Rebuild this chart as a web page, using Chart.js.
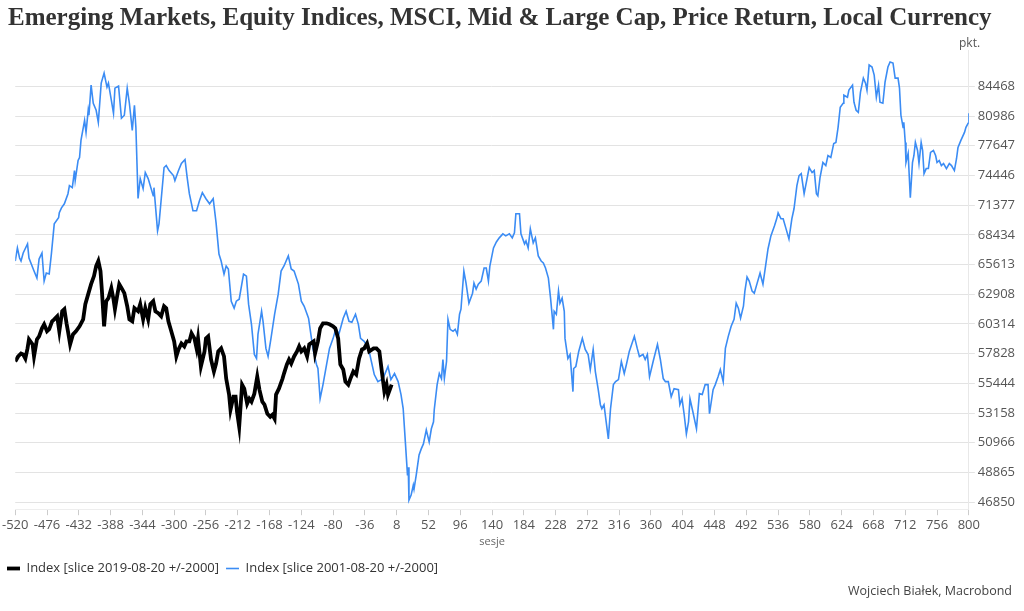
<!DOCTYPE html>
<html>
<head>
<meta charset="utf-8">
<script src="https://cdn.jsdelivr.net/npm/chart.js@4.4.1/dist/chart.umd.min.js"></script>
<style>
  html, body { margin: 0; padding: 0; background: #fff; }
  #wrap { position: relative; width: 1024px; height: 611px; overflow: hidden; }
  #title { position: absolute; left: 8px; top: 3px; font: bold 25px "Liberation Serif", serif; color: #333; white-space: nowrap; }
  #unit { position: absolute; left: 959px; top: 34px; font: 12px "Open Sans", sans-serif; color: #555; }
  #source { position: absolute; right: 12px; top: 582px; font: 12.5px "Open Sans", sans-serif; color: #444; }
  #chartBox { position: absolute; left: 0; top: 0; width: 1024px; height: 611px; }
</style>
</head>
<body>
<div id="wrap">
  <div id="chartBox"><canvas id="mainChart"></canvas></div>
  <div id="title">Emerging Markets, Equity Indices, MSCI, Mid &amp; Large Cap, Price Return, Local Currency</div>
  <div id="unit">pkt.</div>
  <div id="source">Wojciech Białek, Macrobond</div>
</div>
<script>
// Series labels
const seriesLabels = ['Index [slice 2019-08-20 +/-2000]', 'Index [slice 2001-08-20 +/-2000]'];

// Y-axis tick values (log spaced)
const yTicks = [46850, 48865, 50966, 53158, 55444, 57828, 60314, 62908, 65613, 68434, 71377, 74446, 77647, 80986, 84468];

// Slice 2019-08-20 (black): sessions and values
const blackX = [-520, -516, -512, -509, -506, -503, -501, -496, -494, -490, -487, -483, -480, -476, -473, -469, -466, -462, -459, -455,
  -452, -449, -447, -444, -440, -436, -431, -426, -423, -419, -415, -411, -408, -405, -402, -400, -397, -394, -391, -387,
  -384, -382, -379, -376, -372, -369, -365, -362, -358, -355, -350, -347, -343, -340, -336, -333, -329, -326, -322, -318,
  -314, -311, -308, -304, -300, -297, -294, -290, -286, -283, -279, -276, -272, -269, -267, -263, -258, -256, -253, -249,
  -245, -242, -239, -235, -231, -228, -224, -222, -218, -215, -213, -210, -206, -203, -199, -196, -193, -189, -185, -182,
  -178, -175, -171, -167, -164, -161, -159, -155, -150, -148, -144, -141, -138, -134, -130, -127, -124, -120, -116, -113,
  -107, -105, -101, -98, -94, -89, -85, -80, -77, -73, -70, -66, -63, -59, -56, -52, -48, -44, -40, -37,
  -33, -30, -24, -20, -16, -12, -9, -6, -4, -1, 1];
const blackY = [57190, 57600, 57840, 57760, 57435, 58260, 59010, 58595, 57600, 59010, 59265, 59945, 60285, 59687, 59860, 60543, 60715, 60975, 59687, 61412,
  61590, 60370, 59687, 58595, 59435, 59687, 60115, 60715, 62030, 62920, 63820, 64550, 65480, 65946, 65013, 63187, 60115, 62293, 62560, 63460,
  62470, 61590, 62740, 63820, 63370, 63005, 61850, 60715, 60543, 61680, 61412, 62030, 60715, 61680, 60715, 62030, 62293, 61412, 61240, 60975,
  61850, 61680, 60543, 59687, 58843, 57600, 58175, 58675, 58430, 58843, 58843, 59520, 59095, 58260, 59095, 56785, 58010, 59095, 59265, 57353,
  56381, 57030, 58010, 58260, 57600, 55820, 54570, 53410, 54410, 54410, 53258, 52130, 55345, 55030, 53870, 54250, 54022, 54640, 55980, 54955,
  54022, 53790, 53106, 52880, 53030, 52730, 54570, 55030, 55820, 56220, 56950, 57353, 57030, 57600, 58010, 58430, 58010, 58260, 57600, 58595,
  58843, 57840, 58843, 59945, 60370, 60370, 60285, 60115, 59945, 59095, 56950, 56545, 55583, 55345, 55820, 56381, 56140, 57435, 58175, 58260,
  58675, 58010, 58260, 58260, 58010, 56140, 54797, 55345, 54570, 55030, 55345];

// Slice 2001-08-20 (blue): sessions and values
const blueX = [-520, -517, -514, -512, -509, -503, -501, -494, -490, -487, -483, -480, -477, -473, -470, -466, -460, -459, -456, -452,
  -447, -445, -441, -438, -437, -433, -431, -429, -424, -422, -419, -418, -415, -412, -408, -405, -401, -397, -393, -391,
  -387, -384, -382, -377, -373, -369, -365, -362, -358, -355, -353, -350, -347, -343, -340, -336, -329, -328, -323, -321,
  -314, -311, -307, -301, -299, -294, -290, -285, -282, -279, -274, -269, -265, -261, -256, -251, -246, -242, -238, -235,
  -231, -228, -225, -221, -217, -214, -210, -204, -200, -197, -193, -189, -186, -184, -179, -177, -173, -170, -166, -161,
  -156, -152, -148, -142, -138, -134, -128, -124, -120, -114, -108, -103, -101, -98, -94, -89, -85, -80, -76, -72,
  -66, -62, -58, -54, -49, -45, -42, -37, -31, -27, -23, -18, -11, -4, 0, 5, 10, 14, 17, 20,
  23, 24, 25, 28, 31, 32, 35, 39, 42, 45, 49, 53, 56, 59, 60, 64, 67, 70, 72, 74,
  77, 79, 82, 86, 89, 92, 95, 97, 101, 104, 108, 113, 115, 118, 121, 125, 129, 132, 135, 137,
  142, 146, 150, 155, 159, 164, 168, 171, 173, 178, 180, 185, 187, 190, 193, 197, 200, 204, 208, 211,
  214, 218, 221, 225, 226, 229, 232, 234, 237, 240, 241, 245, 248, 252, 253, 256, 260, 265, 269, 273,
  276, 280, 283, 287, 290, 292, 295, 298, 301, 304, 308, 311, 315, 319, 323, 326, 330, 337, 341, 344,
  349, 352, 355, 358, 363, 369, 373, 377, 380, 384, 388, 392, 398, 400, 403, 406, 409, 412, 414, 418,
  423, 427, 431, 435, 439, 441, 446, 449, 453, 456, 460, 463, 467, 471, 475, 478, 481, 484, 488, 490,
  493, 496, 500, 503, 507, 511, 515, 518, 522, 526, 531, 534, 536, 540, 543, 547, 551, 555, 558, 562,
  565, 568, 572, 575, 579, 583, 586, 589, 591, 594, 598, 602, 605, 609, 613, 616, 619, 622, 626, 627,
  632, 634, 639, 641, 644, 647, 650, 654, 657, 659, 662, 666, 669, 672, 675, 677, 681, 684, 688, 691,
  695, 698, 702, 704, 706, 709, 710, 712, 713, 716, 719, 722, 724, 726, 729, 731, 734, 736, 738, 741,
  744, 747, 751, 754, 756, 759, 762, 765, 769, 773, 776, 780, 783, 785, 789, 794, 796, 799, 800];
const blueY = [65946, 67180, 66230, 65946, 66700, 67560, 66230, 65013, 64370, 66130, 66700, 64094, 64830, 64740, 66600, 69515, 70110, 70610, 71110, 71520,
  72550, 73380, 73170, 74968, 73907, 76043, 76370, 78241, 80503, 79140, 81658, 81080, 84620, 82475, 81658, 80275, 84860, 86080, 84380, 84860,
  82830, 81310, 84260, 84500, 80733, 81080, 84260, 82475, 79364, 82240, 79705, 72070, 74120, 73070, 74755, 74120, 72340, 73170, 68826, 69515,
  75290, 75500, 74968, 74435, 73907, 74968, 75720, 76150, 74225, 72550, 70815, 70815, 71831, 72655, 72036, 71520, 72036, 69615, 66600, 65946,
  64735, 65480, 65200, 62293, 61680, 62293, 62470, 64735, 64550, 62030, 60285, 57760, 57435, 59435, 61412, 60543, 58260, 57600, 59095, 61150,
  62920, 65013, 65480, 66420, 65200, 65013, 63820, 62293, 61850, 60805, 58260, 56950, 56625, 54250, 55345, 56950, 58260, 59095, 59945, 59435,
  60805, 61412, 60543, 60460, 61150, 60285, 59095, 58843, 58260, 57190, 56140, 55583, 55820, 56785, 55740, 56220, 55583, 54570, 53500, 51030,
  48660, 49220, 46985, 47320, 48000, 47725, 48660, 50095, 50525, 50885, 51910, 51030, 51985, 52505, 53410, 55345, 56220, 55820, 57353, 55820,
  57190, 60715, 59860, 59687, 59860, 59430, 61150, 61590, 65013, 63910, 62115, 63005, 63910, 63370, 63820, 64094, 65290, 65290, 64094, 65480,
  67180, 67755, 68145, 68530, 68335, 68530, 68145, 68630, 70510, 70510, 68530, 67565, 67852, 67180, 69020, 67660, 68145, 66420, 65946, 65760,
  65290, 64370, 62560, 59860, 61412, 61150, 63187, 62115, 62560, 61412, 59095, 57435, 57760, 54797, 56625, 56785, 58010, 59095, 58175, 57760,
  56545, 58175, 56381, 54955, 53790, 53485, 53790, 52505, 51250, 53485, 55345, 55583, 55740, 57190, 56220, 56950, 58010, 59265, 58260, 57600,
  57760, 57353, 57760, 55980, 57190, 58595, 57353, 55820, 55583, 55583, 54410, 55030, 54955, 53790, 54250, 53030, 51610, 52505, 54250, 53258,
  51985, 54640, 54570, 55345, 55345, 53106, 54955, 55345, 55980, 56545, 55583, 58260, 59265, 60115, 60715, 62115, 61680, 60805, 61850, 63187,
  64460, 64094, 63187, 63005, 63910, 64830, 63820, 65200, 67080, 68335, 69320, 70010, 70610, 70010, 70010, 69020, 68045, 70010, 71015, 73380,
  74435, 74650, 72550, 73695, 75290, 74755, 74968, 72550, 72340, 74225, 75830, 75500, 76585, 76370, 77905, 78015, 79705, 82010, 82475, 83420,
  83180, 84018, 84620, 82595, 81658, 81425, 83780, 85466, 84860, 84018, 87065, 86820, 85834, 83180, 84620, 82595, 82475, 84980, 86820, 87440,
  87315, 85466, 85466, 84260, 81080, 79705, 80275, 78018, 75830, 76820, 72140, 75830, 76585, 78018, 77134, 75720, 78018, 77134, 74650, 75180,
  75180, 76915, 77134, 76585, 75830, 76043, 75500, 75720, 75180, 75720, 75500, 74968, 76260, 77465, 78241, 79140, 79705, 80160, 81310];

const FONT = '"Open Sans", sans-serif';
const toPoints = (xs, ys) => xs.map((x, i) => ({ x: x, y: ys[i] }));

const ctx = document.getElementById('mainChart').getContext('2d');
const chart = new Chart(ctx, {
    type: 'line',
    data: {
        datasets: [{
            label: seriesLabels[0],
            data: toPoints(blackX, blackY),
            borderColor: '#000000',
            backgroundColor: '#000000',
            borderWidth: 3.8,
            pointRadius: 0,
            tension: 0,
            fill: false
        }, {
            label: seriesLabels[1],
            data: toPoints(blueX, blueY),
            borderColor: '#3b8cf4',
            backgroundColor: '#3b8cf4',
            borderWidth: 1.6,
            pointRadius: 0,
            tension: 0,
            fill: false
        }]
    },
    options: {
        responsive: true,
        maintainAspectRatio: false,
        animation: false,
        events: [],
        layout: { padding: { top: 50, left: 0, right: 6, bottom: 26 } },
        plugins: {
            title: { display: false },
            tooltip: { enabled: false },
            legend: {
                position: 'bottom',
                align: 'start',
                labels: {
                    usePointStyle: true,
                    pointStyle: 'line',
                    pointStyleWidth: 13,
                    padding: 7,
                    color: '#333',
                    font: { family: FONT, size: 13 }
                }
            }
        },
        scales: {
            x: {
                type: 'linear',
                min: -520,
                max: 800,
                ticks: { stepSize: 44, autoSkip: false, maxRotation: 0, padding: 2, color: '#555', font: { family: FONT, size: 13 } },
                grid: { drawOnChartArea: false, drawTicks: true, tickLength: 6, color: '#cccccc' },
                border: { display: true, color: '#eeeeee' },
                title: { display: true, text: 'sesje', color: '#666', font: { family: FONT, size: 11 }, padding: { top: 0, bottom: 7 } }
            },
            y: {
                type: 'logarithmic',
                position: 'right',
                min: 46385,
                max: 88940,
                afterBuildTicks: axis => { axis.ticks = yTicks.map(v => ({ value: v })); },
                ticks: { padding: 3, color: '#555', font: { family: FONT, size: 13 }, callback: v => String(v) },
                grid: { color: '#e3e3e3', tickLength: 6 },
                border: { display: true, color: '#e8e8e8' }
            }
        }
    }
});
</script>
</body>
</html>
